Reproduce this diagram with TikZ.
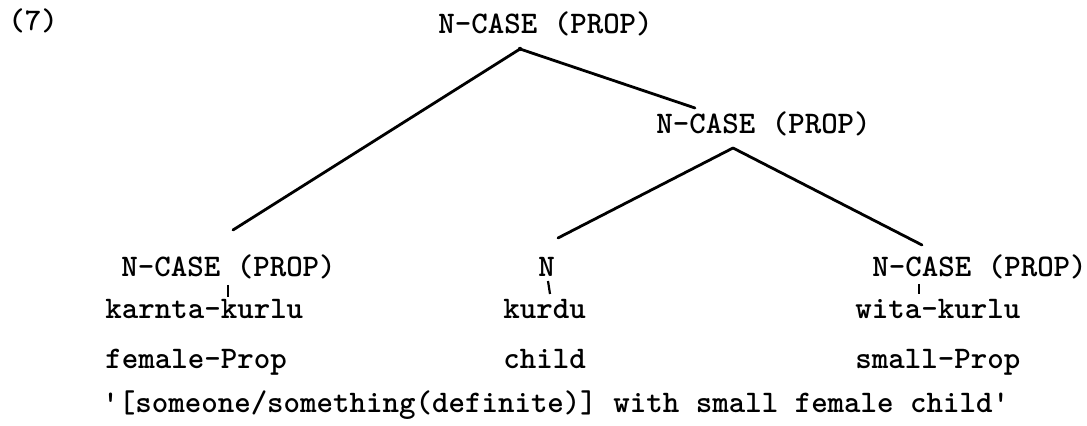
\documentclass[tikz,border=0pt]{standalone}
\usepackage{fontspec}
\usepackage{tikz}

\begin{document}
\begin{tikzpicture}[x=0.5pt, y=-0.5pt, font=\ttfamily\bfseries\fontsize{15.7}{18}\selectfont,
    lbl/.style={anchor=base west, inner sep=0pt},
    branch/.style={line width=1.4pt, line cap=round},
    tick/.style={line width=1.1pt}]
  \useasboundingbox (0,0) rectangle (1087,426);
  \def\rowcat{277}   % baseline of the lowest categories
  \def\rowword{319}  % Warlpiri words
  \def\rowgloss{369} % glosses
  % example number and the two upper N-CASE nodes
  \node[lbl] (num) at (8,31) {(7)};
  \node[lbl] (root) at (438,34) {N-CASE (PROP)};
  \node[lbl] (mid) at (656,134) {N-CASE (PROP)};
  % ---------------- lowest categories
  \node[lbl] (leftcat) at (121,\rowcat) {N-CASE (PROP)};
  \node[lbl] (ncat) at (538,\rowcat) {N};
  \node[lbl] (rightcat) at (872,\rowcat) {N-CASE (PROP)};
  % ---------------- words and glosses
  \node[lbl] (karnta) at (105,\rowword) {karnta-kurlu};
  \node[lbl] (kurdu) at (503,\rowword) {kurdu};
  \node[lbl] (wita) at (855,\rowword) {wita-kurlu};
  \node[lbl] (female) at (105,\rowgloss) {female-Prop};
  \node[lbl] (child) at (503,\rowgloss) {child};
  \node[lbl] (small) at (855,\rowgloss) {small-Prop};
  \node[lbl] (transl) at (102,413) {'[someone/something(definite)] with small female child'};
  % branching points and branch ends
  \coordinate (rootfoot) at (520,49);
  \coordinate (midfoot) at (733,148);
  \coordinate (midtop) at (695,108);
  \coordinate (lefttop) at (233,230);
  \coordinate (ntop) at (558,238);
  \coordinate (righttop) at (922,245);
  \draw[branch] (rootfoot) -- (lefttop);
  \draw[branch] (rootfoot) -- (midtop);
  \draw[branch] (midfoot) -- (ntop);
  \draw[branch] (midfoot) -- (righttop);
  \fill (rootfoot) circle (2.2);
  % short strokes from category to word
  \coordinate (lefttick) at (228,285);
  \coordinate (ntick) at (548,281);
  \coordinate (righttick) at (919,284);
  \draw[tick] (lefttick) -- ++(0,12);
  \draw[tick] (ntick) -- ++(2,13);
  \draw[tick] (righttick) -- ++(0,10);
\end{tikzpicture}
\end{document}
